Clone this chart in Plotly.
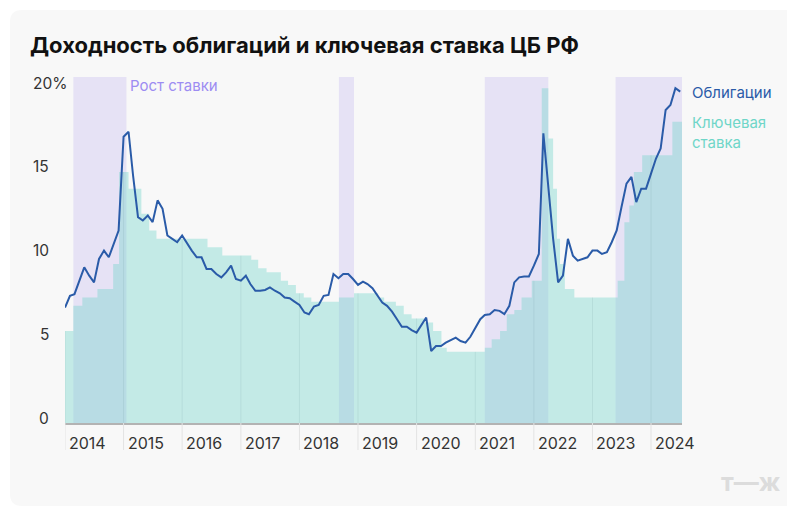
import plotly.graph_objects as go
import pandas as pd

# ---------------- data ----------------
bond_yield = [
    6.9, 7.6, 7.7, 8.5, 9.3, 8.8, 8.4, 9.8, 10.3, 9.9, 10.7, 11.5,      # 2014
    17.1, 17.4, 14.8, 12.3, 12.1, 12.4, 12.0, 13.3, 12.8, 11.2, 11.0, 10.8,  # 2015
    11.2, 10.7, 10.3, 9.9, 9.9, 9.2, 9.2, 8.9, 8.7, 9.0, 9.4, 8.6,     # 2016
    8.5, 8.8, 8.3, 7.9, 7.9, 7.95, 8.1, 7.9, 7.75, 7.5, 7.45, 7.25,    # 2017
    7.05, 6.6, 6.5, 6.95, 7.05, 7.6, 7.65, 8.9, 8.65, 8.9, 8.9, 8.6,   # 2018
    8.25, 8.45, 8.3, 8.05, 7.6, 7.2, 7.0, 6.65, 6.2, 5.75, 5.75, 5.55, # 2019
    5.4, 5.9, 6.3, 4.3, 4.6, 4.6, 4.8, 4.95, 5.1, 4.9, 4.8, 5.15,      # 2020
    5.65, 6.2, 6.45, 6.5, 6.75, 6.7, 6.5, 7.0, 8.4, 8.7, 8.75, 8.75,   # 2021
    9.4, 10.1, 17.3, 14.0, 11.0, 8.4, 8.8, 11.0, 10.0, 9.7, 9.8, 9.9,  # 2022
    10.3, 10.3, 10.1, 10.2, 10.8, 11.5, 12.9, 14.3, 14.7, 13.2, 14.0, 14.0,  # 2023
    14.9, 15.8, 16.4, 18.7, 19.0, 20.0, 19.8,                           # 2024
]
bond_dates = pd.date_range("2014-01-01", periods=len(bond_yield), freq="MS")

key_rate_dates = [
    "2014-01-01", "2014-02-22", "2014-04-19", "2014-07-22", "2014-10-28", "2014-12-04",
    "2015-02-01", "2015-04-22", "2015-06-10", "2015-07-25",
    "2016-06-07", "2016-09-07",
    "2017-03-07", "2017-04-19", "2017-06-10", "2017-09-07", "2017-10-22", "2017-12-10",
    "2018-01-28", "2018-03-16", "2018-09-04", "2018-12-07",
    "2019-05-07", "2019-06-13", "2019-08-25", "2019-10-13", "2019-12-01",
    "2020-02-16", "2020-04-13", "2020-06-04", "2020-07-07",
    "2021-03-01", "2021-04-13", "2021-06-04", "2021-07-16", "2021-09-01", "2021-10-16", "2021-12-19",
    "2022-02-19", "2022-04-01", "2022-05-01", "2022-05-25", "2022-06-13", "2022-07-13", "2022-09-10",
    "2023-06-07", "2023-07-19", "2023-08-19", "2023-09-16", "2023-11-07",
    "2024-05-13",
]
key_rate_values = [
    5.5, 7.0, 7.5, 8.0, 9.5, 15.0,
    14.0, 12.5, 11.5, 11.0,
    10.5, 10.0,
    9.75, 9.25, 9.0, 8.5, 8.25, 7.75,
    7.5, 7.25, 7.5, 7.75,
    7.5, 7.25, 7.0, 6.5, 6.25,
    6.0, 5.5, 4.5, 4.25,
    4.5, 5.0, 5.5, 6.5, 6.75, 7.5, 8.5,
    20.0, 17.0, 14.0, 11.0, 9.5, 8.0, 7.5,
    8.5, 12.0, 13.0, 15.0, 16.0,
    18.0,
]
chart_start = "2014-01-01"
chart_end = "2024-07-12"

hike_starts = ["2014-02-22", "2018-09-04", "2021-03-01", "2023-05-25"]
hike_ends = ["2015-01-19", "2018-12-07", "2022-04-01", "2024-07-12"]

year_labels = ["2014", "2015", "2016", "2017", "2018", "2019",
               "2020", "2021", "2022", "2023", "2024"]
y_tick_values = [0, 5, 10, 15, 20]
y_tick_labels = ["0", "5", "10", "15", "20%"]

title_text = "Доходность облигаций и ключевая ставка ЦБ РФ"
hike_label = "Рост ставки"
bond_label = "Облигации"
key_label = "Ключевая<br>ставка"
logo_text = "т—ж"

# ---------------- geometry / style ----------------
W, H = 787, 510
ML, MR, MT, MB = 65, 105, 77, 87
PW, PH = W - ML - MR, H - MT - MB
Y_MAX = 20.67

FONT = "Inter"
CARD = "#f8f8f8"
LAV = "#e6e2f5"
TEAL_FILL = "rgba(103,212,200,0.36)"
LINE = "#2a5ba8"
TEAL_TXT = "#6fd6c8"
PURPLE_TXT = "#9d8cf2"
TXT = "#333333"


def px_x(sx):
    """screen x pixel -> paper x"""
    return (sx - ML) / PW


def px_y(sy):
    """screen y pixel -> paper y"""
    return (H - MB - sy) / PH


def rate_at(date):
    d = pd.Timestamp(date)
    val = key_rate_values[0]
    for kd, kv in zip(key_rate_dates, key_rate_values):
        if pd.Timestamp(kd) <= d:
            val = kv
    return val


fig = go.Figure()

# key rate step area
fig.add_trace(go.Scatter(
    x=key_rate_dates + [chart_end],
    y=key_rate_values + [key_rate_values[-1]],
    mode="lines", line=dict(shape="hv", width=0, color=TEAL_FILL),
    fill="tozeroy", fillcolor=TEAL_FILL, hoverinfo="skip",
))

# bond yield line
fig.add_trace(go.Scatter(
    x=bond_dates, y=bond_yield, mode="lines",
    line=dict(color=LINE, width=2), hoverinfo="skip",
))

shapes = []

# card background with rounded corners
x0, x1 = px_x(10), px_x(800)
y0, y1 = px_y(506), px_y(10)
rx, ry = 12 / PW, 12 / PH
card_path = (
    f"M {x0 + rx},{y1} L {x1},{y1} L {x1},{y0} L {x0 + rx},{y0} "
    f"Q {x0},{y0} {x0},{y0 + ry} L {x0},{y1 - ry} Q {x0},{y1} {x0 + rx},{y1} Z"
)
shapes.append(dict(type="path", path=card_path, xref="paper", yref="paper",
                   fillcolor=CARD, line=dict(width=0), layer="below"))

# rate-hike periods
for s, e in zip(hike_starts, hike_ends):
    shapes.append(dict(type="rect", xref="x", yref="paper", x0=s, x1=e, y0=0, y1=1,
                       fillcolor=LAV, line=dict(width=0), layer="below"))

# year separators: faint inside area + tick below axis
for yl in year_labels:
    d = f"{yl}-01-01"
    shapes.append(dict(type="line", xref="x", yref="y", x0=d, x1=d, y0=0, y1=rate_at(d),
                       line=dict(color="rgba(0,60,70,0.07)", width=1), layer="above"))
    shapes.append(dict(type="line", xref="x", yref="paper", x0=d, x1=d,
                       y0=-27 / PH, y1=0, line=dict(color="#e3e3e3", width=1)))

annotations = []

# year labels
for yl in year_labels:
    annotations.append(dict(x=f"{yl}-01-01", y=0, xref="x", yref="paper",
                            text=yl, showarrow=False, xanchor="left", yanchor="middle",
                            xshift=2, yshift=-20, font=dict(family=FONT, size=16, color=TXT)))

# y labels
for v, t in zip(y_tick_values, y_tick_labels):
    if t.endswith("%"):
        annotations.append(dict(x=px_x(31), y=v, xref="paper", yref="y", text=t,
                                showarrow=False, xanchor="left", yanchor="middle", yshift=5,
                                font=dict(family=FONT, size=15.5, color=TXT)))
    else:
        annotations.append(dict(x=px_x(51), y=v, xref="paper", yref="y", text=t,
                                showarrow=False, xanchor="right", yanchor="middle", yshift=5,
                                font=dict(family=FONT, size=15.5, color=TXT)))

# hike label
annotations.append(dict(x=hike_ends[0], y=1, xref="x", yref="paper", text=hike_label,
                        showarrow=False, xanchor="left", yanchor="top", xshift=2, yshift=3,
                        font=dict(family=FONT, size=15, color=PURPLE_TXT)))

# series labels
annotations.append(dict(x=chart_end, y=bond_yield[-1], xref="x", yref="y", text=bond_label,
                        showarrow=False, xanchor="left", yanchor="middle", xshift=8, yshift=-1,
                        font=dict(family=FONT, size=15, color=LINE)))
annotations.append(dict(x=chart_end, y=key_rate_values[-1], xref="x", yref="y", text=key_label,
                        showarrow=False, xanchor="left", yanchor="middle", xshift=8, yshift=-11,
                        align="left", font=dict(family=FONT, size=15, color=TEAL_TXT)))

# logo
annotations.append(dict(x=px_x(783), y=px_y(482), xref="paper", yref="paper", text=logo_text,
                        showarrow=False, xanchor="right", yanchor="middle",
                        font=dict(family=FONT, size=25, color="#dcdcdc", weight="bold")))

fig.update_layout(
    width=W, height=H,
    margin=dict(l=ML, r=MR, t=MT, b=MB, pad=0),
    paper_bgcolor="white", plot_bgcolor="rgba(0,0,0,0)",
    showlegend=False,
    title=dict(text=title_text, x=30 / W, xref="container", xanchor="left",
               y=1 - 45 / H, yref="container", yanchor="middle",
               font=dict(family=FONT, size=22, color="#111111", weight="bold")),
    xaxis=dict(range=[chart_start, chart_end], showgrid=False, zeroline=False,
               showticklabels=False, ticks="", showline=True, linecolor="#b3b3b3",
               linewidth=1.5),
    yaxis=dict(range=[0, Y_MAX], showgrid=False, zeroline=False, showticklabels=False,
               ticks="", showline=False),
    shapes=shapes, annotations=annotations,
)

fig.write_html(
    "out.html",
    config={"displayModeBar": False},
    post_script="document.body.style.margin='0';document.body.style.overflow='hidden';",
)
